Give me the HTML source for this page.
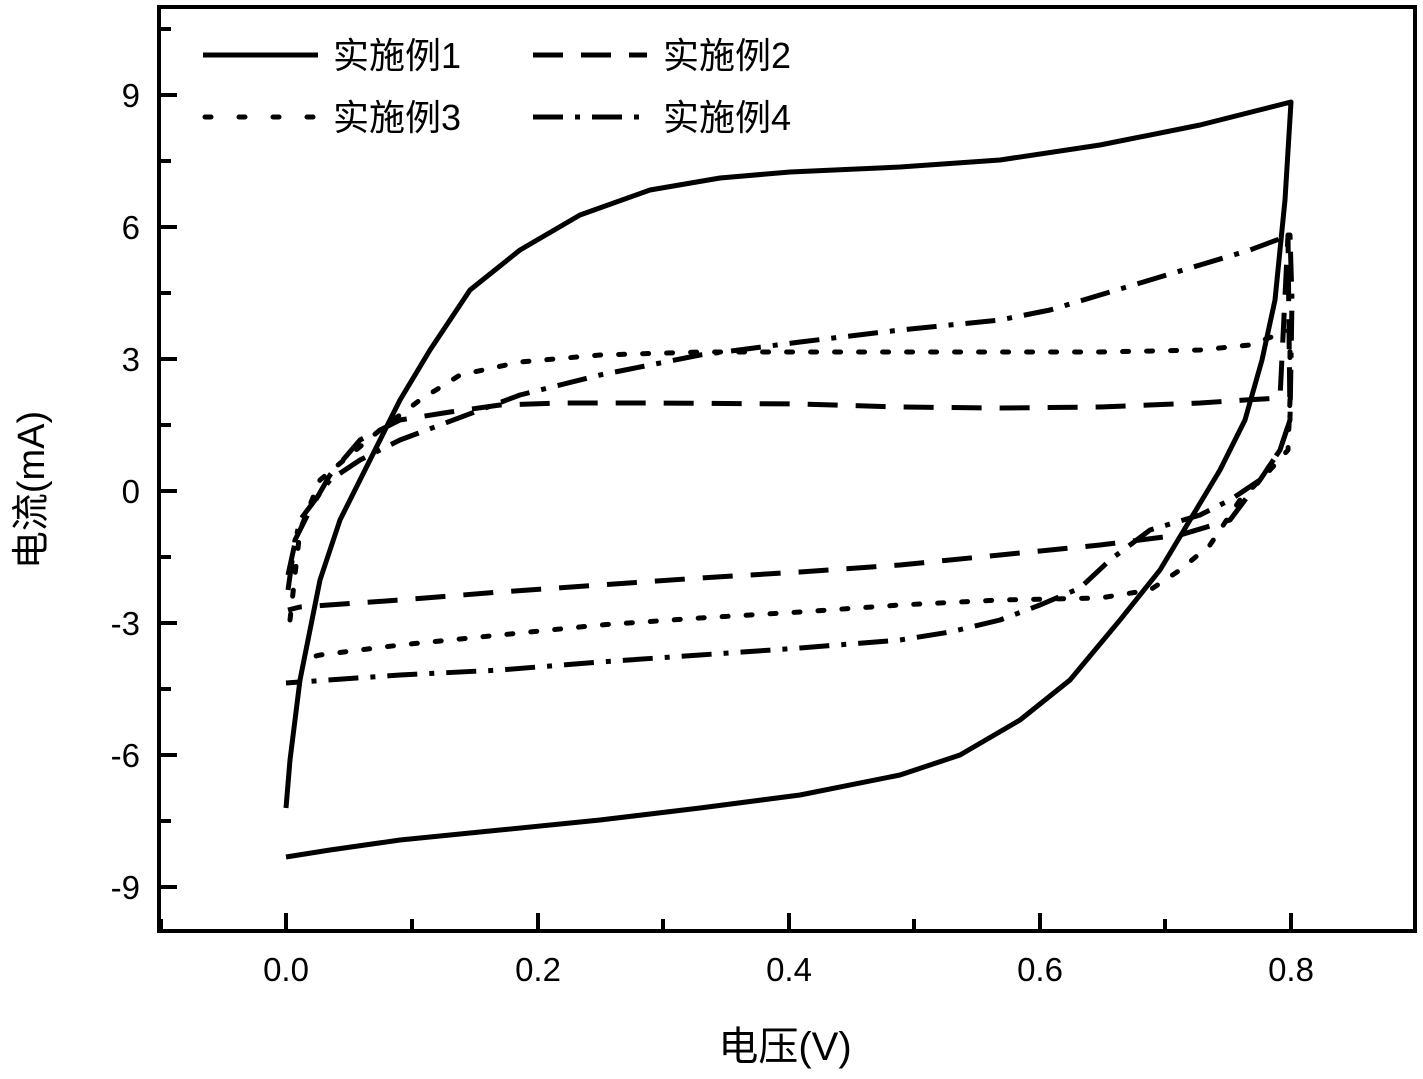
<!DOCTYPE html>
<html><head><meta charset="utf-8"><style>body{margin:0;background:#fff}svg{display:block}</style></head><body>
<svg width="1423" height="1079" xmlns="http://www.w3.org/2000/svg" font-family="Liberation Sans, Noto Sans CJK SC, sans-serif">
<rect x="159" y="7" width="1256" height="924" fill="none" stroke="#000" stroke-width="4"/>
<g stroke="#000" stroke-width="4">
<line x1="286" y1="931" x2="286" y2="913"/><line x1="538" y1="931" x2="538" y2="913"/><line x1="789" y1="931" x2="789" y2="913"/><line x1="1040" y1="931" x2="1040" y2="913"/><line x1="1291" y1="931" x2="1291" y2="913"/>
<line x1="161" y1="931" x2="161" y2="919"/><line x1="412" y1="931" x2="412" y2="919"/><line x1="663" y1="931" x2="663" y2="919"/><line x1="914" y1="931" x2="914" y2="919"/><line x1="1165" y1="931" x2="1165" y2="919"/>
<line x1="159" y1="95" x2="177" y2="95"/><line x1="159" y1="227" x2="177" y2="227"/><line x1="159" y1="359" x2="177" y2="359"/><line x1="159" y1="491" x2="177" y2="491"/><line x1="159" y1="623" x2="177" y2="623"/><line x1="159" y1="755" x2="177" y2="755"/><line x1="159" y1="887" x2="177" y2="887"/>
<line x1="159" y1="29" x2="171" y2="29"/><line x1="159" y1="161" x2="171" y2="161"/><line x1="159" y1="293" x2="171" y2="293"/><line x1="159" y1="425" x2="171" y2="425"/><line x1="159" y1="557" x2="171" y2="557"/><line x1="159" y1="689" x2="171" y2="689"/><line x1="159" y1="821" x2="171" y2="821"/>
</g>
<g font-size="33" text-anchor="end">
<text x="140" y="107">9</text><text x="140" y="239">6</text><text x="140" y="371">3</text><text x="140" y="503">0</text><text x="140" y="635">-3</text><text x="140" y="767">-6</text><text x="140" y="899">-9</text>
</g>
<g font-size="33" text-anchor="middle">
<text x="286" y="981">0.0</text><text x="538" y="981">0.2</text><text x="789" y="981">0.4</text><text x="1040" y="981">0.6</text><text x="1291" y="981">0.8</text>
</g>
<text x="785" y="1060" font-size="40" text-anchor="middle">电压(V)</text>
<text transform="translate(44,490) rotate(-90)" font-size="38" text-anchor="middle">电流(mA)</text>
<g fill="none" stroke="#000" stroke-width="5" stroke-linejoin="round">
<polyline points="286,808 290,760 300,680 320,580 340,520 365,470 400,400 430,350 470,290 520,250 580,215 650,190 720,178 790,172 900,167 1000,160 1100,145 1200,125 1291,102 1285,200 1275,300 1262,360 1245,420 1220,470 1190,520 1160,570 1120,620 1070,680 1020,720 960,755 900,775 800,795 700,808 600,820 500,830 400,840 330,850 286,857"/>
<polyline stroke-dasharray="30,18" points="288,590 295,540 310,510 330,475 360,440 400,420 450,412 500,405 560,403 650,403 800,404 900,407 1000,408 1100,407 1200,403 1245,400 1280,398 1288,235 1290,420 1280,450 1260,480 1230,520 1180,535 1100,545 1000,555 900,565 800,572 700,578 600,585 500,592 400,600 300,607 288,610"/>
<polyline stroke-dasharray="6,18" stroke-linecap="round" points="290,620 300,530 320,480 350,455 380,430 420,400 460,375 520,362 600,355 700,352 800,352 900,352 1000,352 1100,352 1200,350 1250,345 1290,330 1290,400 1288,450 1270,470 1240,500 1210,545 1180,570 1150,590 1100,598 1000,600 900,605 800,612 700,618 600,625 500,635 400,645 320,655 300,660"/>
<polyline stroke-dasharray="30,12,5,12" points="288,575 300,520 330,480 360,460 400,440 440,425 480,410 520,395 600,375 700,355 800,342 900,330 1000,320 1050,310 1100,295 1150,280 1200,265 1250,250 1290,235 1292,300 1290,420 1280,450 1260,480 1230,500 1200,515 1150,530 1110,560 1080,588 1040,605 1000,620 950,632 900,640 800,648 700,655 600,662 500,670 400,675 300,682 286,683"/>
<line x1="203" y1="55" x2="318" y2="55"/>
<line x1="533" y1="55" x2="647" y2="55" stroke-dasharray="30,18"/>
<line x1="205" y1="117" x2="318" y2="117" stroke-dasharray="6,28" stroke-linecap="round"/>
<line x1="533" y1="117" x2="647" y2="117" stroke-dasharray="30,12,5,12"/>
</g>
<g font-size="36">
<text x="333" y="68">实施例1</text><text x="663" y="68">实施例2</text>
<text x="333" y="130">实施例3</text><text x="663" y="130">实施例4</text>
</g>
</svg>
</body></html>
